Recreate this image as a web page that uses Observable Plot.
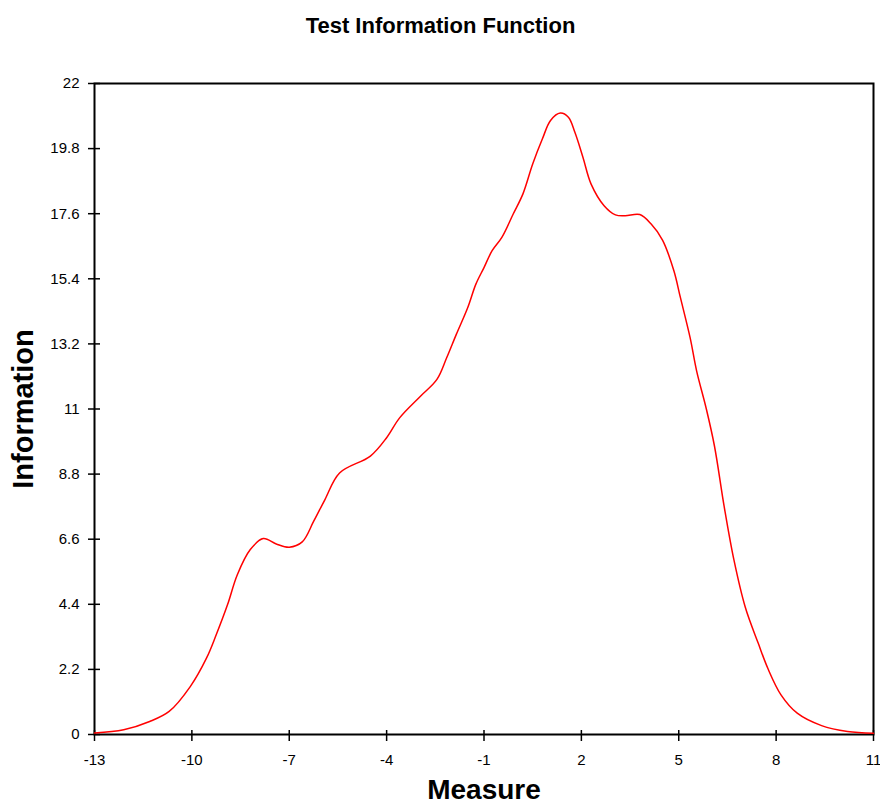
<!DOCTYPE html>
<html>
<head>
<meta charset="utf-8">
<script src="https://cdn.jsdelivr.net/npm/d3@7"></script>
<script src="https://cdn.jsdelivr.net/npm/@observablehq/plot@0.6"></script>
<style>
  html, body { margin: 0; padding: 0; background: #fff; }
  #chart svg { display: block; }
</style>
</head>
<body>
<div id="chart"></div>
<script>
const measure = [-13, -12.1, -11.3, -10.7, -10.05, -9.55, -9.25, -8.9, -8.6, -8.2, -7.8, -7.4, -7.0, -6.6, -6.25, -5.9, -5.45, -4.5, -4.0, -3.6, -2.95, -2.45, -2.15, -1.85, -1.5, -1.25, -1.0, -0.75, -0.45, -0.1, 0.2, 0.5, 0.8, 1.05, 1.35, 1.6, 1.8, 2.05, 2.3, 2.7, 3.05, 3.35, 3.8, 4.15, 4.5, 4.85, 5.05, 5.35, 5.55, 5.85, 6.1, 6.4, 6.7, 7.05, 7.45, 7.75, 8.15, 8.65, 9.4, 10.2, 11];
const information = [0.05, 0.16, 0.44, 0.78, 1.62, 2.58, 3.37, 4.39, 5.4, 6.25, 6.62, 6.44, 6.33, 6.51, 7.2, 7.94, 8.84, 9.41, 10.03, 10.7, 11.44, 12.0, 12.73, 13.53, 14.43, 15.22, 15.78, 16.35, 16.8, 17.59, 18.27, 19.28, 20.13, 20.75, 21.0, 20.86, 20.35, 19.5, 18.6, 17.87, 17.56, 17.53, 17.57, 17.25, 16.71, 15.67, 14.77, 13.41, 12.29, 11.0, 9.75, 7.7, 5.9, 4.3, 3.08, 2.22, 1.34, 0.72, 0.3, 0.1, 0.04];
const xTicks = [-13, -10, -7, -4, -1, 2, 5, 8, 11];
const yTicks = [0, 2.2, 4.4, 6.6, 8.8, 11, 13.2, 15.4, 17.6, 19.8, 22];
const yTickLabels = ["0", "2.2", "4.4", "6.6", "8.8", "11", "13.2", "15.4", "17.6", "19.8", "22"];
const title = "Test Information Function";
const xLabel = "Measure";
const yLabel = "Information";

const data = measure.map((m, i) => ({measure: m, information: information[i]}));
const font = "'Liberation Sans', Arial, sans-serif";

const chart = Plot.plot({
  width: 880,
  height: 805,
  marginLeft: 94,
  marginRight: 7,
  marginTop: 83,
  marginBottom: 71,
  style: {fontFamily: font, fontSize: "15px", color: "#000", background: "#fff"},
  x: {domain: [-13, 11], ticks: xTicks},
  y: {domain: [0, 22], ticks: yTicks},
  marks: [
    Plot.axisY(yTicks, {
      anchor: "left", tickSize: 12, dx: 6, tickPadding: 9, label: null,
      tickFormat: (d, i) => yTickLabels[i], fontSize: 15, strokeWidth: 1.5
    }),
    Plot.axisX(xTicks, {
      anchor: "bottom", tickSize: 11, dy: -4, tickPadding: 13, label: null,
      tickFormat: d => String(d), fontSize: 15, strokeWidth: 1.5
    }),
    Plot.frame({stroke: "#000", strokeWidth: 2}),
    Plot.line(data, {x: "measure", y: "information", stroke: "#ff0000", strokeWidth: 1.5, curve: "catmull-rom"}),
    Plot.text([title], {frameAnchor: "top", textAnchor: "middle", dy: -58, dx: -43.5, fontSize: 22, fontWeight: "bold", lineAnchor: "middle", fill: "#000"}),
    Plot.text([xLabel], {frameAnchor: "bottom", textAnchor: "middle", dy: 56, fontSize: 28, fontWeight: "bold", lineAnchor: "middle", fill: "#000"}),
    Plot.text([yLabel], {frameAnchor: "left", textAnchor: "middle", dx: -71, rotate: -90, fontSize: 29, fontWeight: "bold", lineAnchor: "middle", fill: "#000"})
  ]
});
document.getElementById("chart").appendChild(chart);
</script>
</body>
</html>
